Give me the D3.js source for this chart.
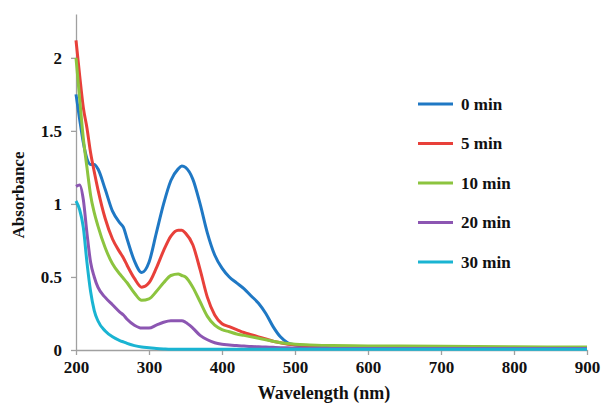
<!DOCTYPE html>
<html>
<head>
<meta charset="utf-8">
<script src="https://cdn.jsdelivr.net/npm/d3@7.9.0/dist/d3.min.js"></script>
<style>
  body { margin: 0; background: #fff; }
  svg { display: block; }
  .axis text { font-family: "Liberation Serif", serif; font-weight: bold; font-size: 17px; fill: #111; }
  .axis path, .axis line { stroke: #a0a0a0; stroke-width: 1.3; }
</style>
</head>
<body>
<svg id="chart" width="602" height="403"></svg>
<script>
const wavelengths = [200, 205, 210, 215, 220, 225, 230, 240, 250, 260, 265, 270, 280, 290, 300, 310, 320, 330, 340, 345, 350, 360, 370, 380, 390, 400, 410, 420, 430, 440, 450, 460, 470, 480, 490, 500, 520, 550, 600, 700, 800, 900];

const abs0 = [1.75, 1.58, 1.42, 1.31, 1.27, 1.27, 1.24, 1.1, 0.95, 0.87, 0.84, 0.76, 0.61, 0.53, 0.6, 0.8, 1.0, 1.16, 1.24, 1.26, 1.25, 1.17, 1.0, 0.8, 0.65, 0.56, 0.5, 0.46, 0.42, 0.37, 0.32, 0.25, 0.16, 0.09, 0.05, 0.035, 0.025, 0.02, 0.018, 0.015, 0.012, 0.01];
const abs5 = [2.12, 1.88, 1.66, 1.52, 1.35, 1.22, 1.1, 0.9, 0.76, 0.67, 0.63, 0.58, 0.49, 0.43, 0.46, 0.56, 0.68, 0.78, 0.82, 0.82, 0.8, 0.72, 0.55, 0.36, 0.24, 0.18, 0.16, 0.14, 0.12, 0.105, 0.09, 0.075, 0.06, 0.05, 0.04, 0.035, 0.03, 0.025, 0.022, 0.018, 0.016, 0.015];
const abs10 = [2.0, 1.72, 1.45, 1.25, 1.06, 0.94, 0.85, 0.7, 0.59, 0.52, 0.49, 0.46, 0.39, 0.34, 0.35, 0.4, 0.46, 0.51, 0.52, 0.51, 0.5, 0.43, 0.33, 0.23, 0.17, 0.14, 0.125, 0.11, 0.1, 0.09, 0.08, 0.07, 0.06, 0.05, 0.045, 0.04, 0.035, 0.03, 0.028, 0.025, 0.022, 0.02];
const abs20 = [1.12, 1.13, 1.03, 0.8, 0.6, 0.5, 0.43, 0.36, 0.31, 0.26, 0.24, 0.21, 0.17, 0.15, 0.15, 0.17, 0.19, 0.2, 0.2, 0.2, 0.19, 0.15, 0.1, 0.07, 0.05, 0.04, 0.035, 0.03, 0.027, 0.024, 0.022, 0.02, 0.018, 0.016, 0.015, 0.014, 0.012, 0.011, 0.01, 0.01, 0.01, 0.01];
const abs30 = [1.02, 0.96, 0.84, 0.6, 0.4, 0.27, 0.2, 0.13, 0.09, 0.065, 0.055, 0.045, 0.03, 0.02, 0.015, 0.01, 0.007, 0.005, 0.005, 0.005, 0.005, 0.005, 0.005, 0.005, 0.005, 0.005, 0.005, 0.005, 0.005, 0.005, 0.005, 0.005, 0.005, 0.005, 0.005, 0.005, 0.005, 0.005, 0.005, 0.005, 0.005, 0.005];

const seriesNames = ['0 min', '5 min', '10 min', '20 min', '30 min'];
const seriesColors = ['#1f78c4', '#e8403a', '#8cc43f', '#8c56b2', '#1ab4d2'];
const seriesValues = [abs0, abs5, abs10, abs20, abs30];

const xTicks = [200, 300, 400, 500, 600, 700, 800, 900];
const yTicks = [0, 0.5, 1, 1.5, 2];

const svg = d3.select('#chart');

const x = d3.scaleLinear().domain([200, 900]).range([76, 587]);
const y = d3.scaleLinear().domain([0, 2.3]).range([350, 14]);

// axes
svg.append('g')
  .attr('class', 'axis')
  .attr('transform', 'translate(0,350)')
  .call(d3.axisBottom(x).tickValues(xTicks).tickSize(5).tickSizeOuter(0).tickPadding(6).tickFormat(d3.format('d')));

svg.append('g')
  .attr('class', 'axis')
  .attr('transform', 'translate(76,0)')
  .call(d3.axisLeft(y).tickValues(yTicks).tickSize(5).tickSizeOuter(0).tickPadding(9).tickFormat(d => d))
  .selectAll('text').attr('dy', '0.35em');

// curves
const line = d3.line()
  .x((d, i) => x(wavelengths[i]))
  .y(d => y(d))
  .curve(d3.curveMonotoneX);

svg.append('g')
  .selectAll('path')
  .data(seriesValues)
  .join('path')
  .attr('d', d => line(d))
  .attr('fill', 'none')
  .attr('stroke', (d, i) => seriesColors[i])
  .attr('stroke-width', 3)
  .attr('stroke-linejoin', 'round');

// axis titles
svg.append('text')
  .attr('x', 324)
  .attr('y', 399)
  .attr('text-anchor', 'middle')
  .style('font-family', '"Liberation Serif", serif')
  .style('font-weight', 'bold')
  .style('font-size', '18px')
  .attr('fill', '#111')
  .text('Wavelength (nm)');

svg.append('text')
  .attr('transform', 'translate(24,195) rotate(-90)')
  .attr('text-anchor', 'middle')
  .style('font-family', '"Liberation Serif", serif')
  .style('font-weight', 'bold')
  .style('font-size', '17px')
  .attr('fill', '#111')
  .text('Absorbance');

// legend
const legend = svg.append('g')
  .selectAll('g')
  .data(seriesNames)
  .join('g')
  .attr('transform', (d, i) => `translate(418,${104 + i * 39.5})`);

legend.append('line')
  .attr('x1', 0).attr('x2', 35)
  .attr('stroke', (d, i) => seriesColors[i])
  .attr('stroke-width', 3);

legend.append('text')
  .attr('x', 43)
  .attr('dy', '0.35em')
  .style('font-family', '"Liberation Serif", serif')
  .style('font-weight', 'bold')
  .style('font-size', '17px')
  .attr('fill', '#111')
  .text(d => d);
</script>
</body>
</html>
